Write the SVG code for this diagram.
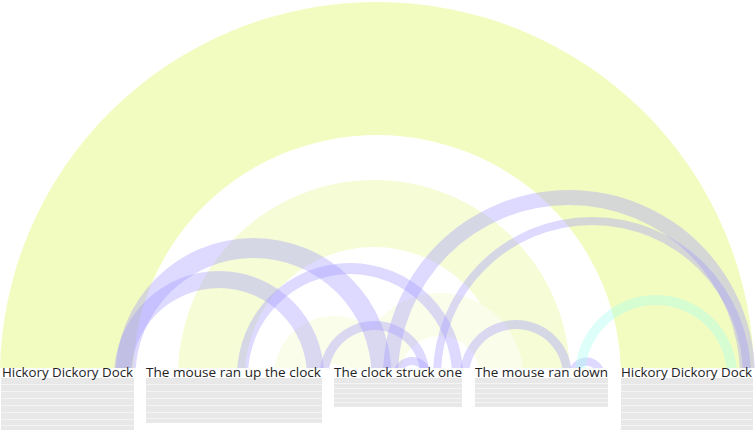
<svg xmlns="http://www.w3.org/2000/svg" width="755" height="431" viewBox="0 0 755 431">
<defs>
<clipPath id="above"><rect x="0" y="0" width="755" height="368"/></clipPath>
<style>
.y1{fill:#f2fcc0}
.y2{fill:#f5fcd6}
.yf{fill:#fafde9}
.b{fill:#a096ff;fill-opacity:0.36}
.m{fill:#a8ffee;fill-opacity:0.38}
.lbl{font-family:"Open Sans","DejaVu Sans",sans-serif;font-size:12px;fill:#222222}
.box{fill:#e8e8e8}
.gap{stroke:#f4f4f4;stroke-width:1}
</style>
</defs>
<rect width="755" height="431" fill="#ffffff"/>
<g id="connectors" clip-path="url(#above)">
<path id="arc-hickory" class="y1" d="M0 376 A377 374 0 0 1 754 376 L621 376 A244 241 0 0 0 133 376 Z"/>
<path id="arc-mouse-ran" class="y2" d="M178 376 A196 196 0 0 1 570 376 L503 376 A129 129 0 0 0 245 376 Z"/>
<path id="arc-the-clock" class="yf" d="M274 376 A60 60 0 0 1 394 376 L346 376 A12 12 0 0 0 322 376 Z"/>
<path id="arc-f2" class="yf" d="M357 376 A83 83 0 0 1 523 376 L480 376 A40 40 0 0 0 400 376 Z"/>
<path id="arc-b1" class="b" d="M115.5 376 A138 138 0 0 1 391.5 376 L371.5 376 A118 118 0 0 0 135.5 376 Z"/>
<path id="arc-b2" class="b" d="M114 376 A105 105 0 0 1 324 376 L307 376 A88 88 0 0 0 131 376 Z"/>
<path id="arc-b3" class="b" d="M237 376 A113 113 0 0 1 463 376 L452 376 A102 102 0 0 0 248 376 Z"/>
<path id="arc-b4" class="b" d="M319.5 376 A55 55 0 0 1 429.5 376 L420.5 376 A46 46 0 0 0 328.5 376 Z"/>
<path id="arc-b5" class="b" d="M393 376 A19 19 0 0 1 431 376 L423 376 A11 11 0 0 0 401 376 Z"/>
<path id="arc-b6" class="b" d="M383 376 A186 186 0 0 1 755 376 L740 376 A171 171 0 0 0 398 376 Z"/>
<path id="arc-b7" class="b" d="M433 376 A159 159 0 0 1 751 376 L743 376 A151 151 0 0 0 441 376 Z"/>
<path id="arc-b8" class="b" d="M460 376 A56 56 0 0 1 572 376 L563 376 A47 47 0 0 0 469 376 Z"/>
<path id="arc-b9" class="b" d="M568 376 A18.5 18.5 0 0 1 605 376 L597 376 A10.5 10.5 0 0 0 576 376 Z"/>
<path id="arc-c1" class="m" d="M575 376 A81 81 0 0 1 737 376 L727 376 A71 71 0 0 0 585 376 Z"/>
</g>
<g id="node1">
<rect class="box" x="1" y="378" width="133" height="52"/>
<path class="gap" d="M1 384.5H134M1 391.5H134M1 398.5H134M1 405.5H134M1 412.5H134M1 419.5H134M1 425.5H134"/>
<text class="lbl" x="2" y="377" textLength="131" lengthAdjust="spacingAndGlyphs">Hickory Dickory Dock</text>
</g>
<g id="node2">
<rect class="box" x="146" y="378" width="176" height="45"/>
<path class="gap" d="M146 384.5H322M146 391.5H322M146 398.5H322M146 405.5H322M146 412.5H322M146 418.5H322"/>
<text class="lbl" x="146" y="377" textLength="175" lengthAdjust="spacingAndGlyphs">The mouse  ran up the clock</text>
</g>
<g id="node3">
<rect class="box" x="334" y="378" width="128" height="29"/>
<path class="gap" d="M334 383.5H462M334 388.5H462M334 393.5H462M334 398.5H462M334 402.5H462"/>
<text class="lbl" x="334" y="377" textLength="128" lengthAdjust="spacingAndGlyphs">The clock struck  one</text>
</g>
<g id="node4">
<rect class="box" x="475" y="378" width="133" height="29"/>
<path class="gap" d="M475 383.5H608M475 388.5H608M475 393.5H608M475 398.5H608M475 402.5H608"/>
<text class="lbl" x="475" y="377" textLength="133" lengthAdjust="spacingAndGlyphs">The mouse  ran  down</text>
</g>
<g id="node5">
<rect class="box" x="621" y="378" width="132" height="52"/>
<path class="gap" d="M621 384.5H753M621 391.5H753M621 398.5H753M621 405.5H753M621 412.5H753M621 419.5H753M621 425.5H753"/>
<text class="lbl" x="621" y="377" textLength="131" lengthAdjust="spacingAndGlyphs">Hickory Dickory Dock</text>
</g>
</svg>
